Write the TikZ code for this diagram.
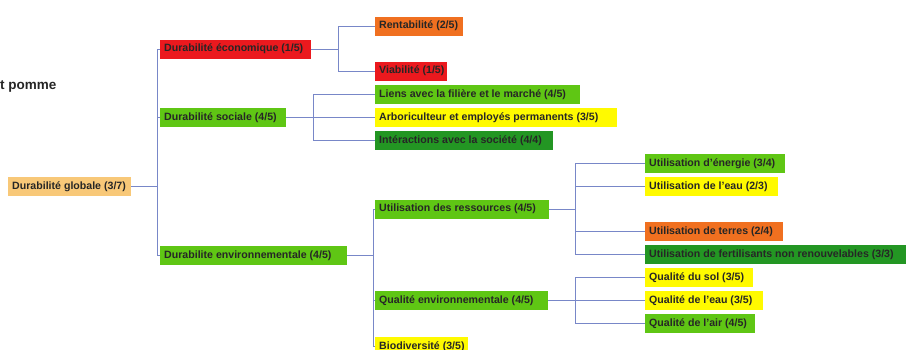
\documentclass[tikz,border=0pt]{standalone}
\usepackage{fontspec}
\setmainfont{Liberation Sans}
\definecolor{cOrange}{RGB}{240,112,32}
\definecolor{cRed}{RGB}{235,25,30}
\definecolor{cLGreen}{RGB}{95,198,20}
\definecolor{cDGreen}{RGB}{35,150,35}
\definecolor{cYellow}{RGB}{255,250,0}
\definecolor{cPeach}{RGB}{248,200,120}
\definecolor{cLine}{RGB}{120,135,200}
\newcommand\lbox[2]{\makebox[#1pt][l]{#2}}
\begin{document}
\begin{tikzpicture}[x=1pt,y=-1pt,
  box/.style={anchor=west,minimum height=19pt,inner xsep=4pt,inner ysep=0pt,
    font=\fontsize{10.6}{12}\selectfont\bfseries,text=black!85},
  link/.style={draw=cLine,line width=0.9pt}]
\useasboundingbox (0,0) rectangle (906,349);
\clip (0,0) rectangle (906,349);
% title fragment
\node[anchor=west,inner sep=0pt,font=\fontsize{13.5}{15}\selectfont\bfseries,text=black!85] (ttl) at (0,86) {t pomme};
% level 0
\node[box,fill=cPeach] (glob) at (8,186.5) {\lbox{115}{Durabilité globale (3/7)}};
% level 1
\node[box,fill=cRed] (eco) at (160,49) {\lbox{143}{Durabilité économique (1/5)}};
\node[box,fill=cLGreen] (soc) at (160,117.5) {\lbox{118}{Durabilité sociale (4/5)}};
\node[box,fill=cLGreen] (env) at (160,255.5) {\lbox{179}{Durabilite environnementale (4/5)}};
% level 2 eco
\node[box,fill=cOrange] (rent) at (375,26) {\lbox{80}{Rentabilité (2/5)}};
\node[box,fill=cRed] (viab) at (375,71) {\lbox{64}{Viabilité (1/5)}};
% level 2 soc
\node[box,fill=cLGreen] (lien) at (375,94.5) {\lbox{197}{Liens avec la filière et le marché (4/5)}};
\node[box,fill=cYellow] (arbo) at (375,117.5) {\lbox{234}{Arboriculteur et employés permanents (3/5)}};
\node[box,fill=cDGreen] (inter) at (375,140.5) {\lbox{170}{Intéractions avec la société (4/4)}};
% level 2 env
\node[box,fill=cLGreen] (res) at (375,209) {\lbox{166}{Utilisation des ressources (4/5)}};
\node[box,fill=cLGreen] (qenv) at (375,300.5) {\lbox{165}{Qualité environnementale (4/5)}};
\node[box,fill=cYellow] (bio) at (375,346.5) {\lbox{85}{Biodiversité (3/5)}};
% level 3 res
\node[box,fill=cLGreen] (ener) at (645,163.5) {\lbox{132}{Utilisation d'énergie (3/4)}};
\node[box,fill=cYellow] (eau) at (645,186.5) {\lbox{125}{Utilisation de l'eau (2/3)}};
\node[box,fill=cOrange] (terr) at (645,231.5) {\lbox{130}{Utilisation de terres (2/4)}};
\node[box,fill=cDGreen] (fert) at (645,254.5) {\lbox{265}{Utilisation de fertilisants non renouvelables (3/3)}};
% level 3 qenv
\node[box,fill=cYellow] (sol) at (645,277.5) {\lbox{100}{Qualité du sol (3/5)}};
\node[box,fill=cYellow] (qeau) at (645,300.5) {\lbox{110}{Qualité de l'eau (3/5)}};
\node[box,fill=cLGreen] (air) at (645,323.5) {\lbox{102}{Qualité de l'air (4/5)}};
% junctions
\coordinate (j0) at (157,186.5);
\coordinate (j1) at (338,49);
\coordinate (j2) at (313,117.5);
\coordinate (j3) at (373,255.5);
\coordinate (j4) at (575,209);
\coordinate (j5) at (575,300.5);
% connectors
\draw[link] (glob.east) -- (j0) |- (eco.west);
\draw[link] (j0) |- (soc.west);
\draw[link] (j0) |- (env.west);
\draw[link] (eco.east) -- (j1) |- (rent.west);
\draw[link] (j1) |- (viab.west);
\draw[link] (soc.east) -- (j2) |- (lien.west);
\draw[link] (j2) -- (arbo.west);
\draw[link] (j2) |- (inter.west);
\draw[link] (env.east) -- (j3) |- (res.west);
\draw[link] (j3) |- (qenv.west);
\draw[link] (j3) |- (bio.west);
\draw[link] (res.east) -- (j4) |- (ener.west);
\draw[link] (j4) |- (eau.west);
\draw[link] (j4) |- (terr.west);
\draw[link] (j4) |- (fert.west);
\draw[link] (qenv.east) -- (j5) |- (sol.west);
\draw[link] (j5) -- (qeau.west);
\draw[link] (j5) |- (air.west);
\end{tikzpicture}
\end{document}
